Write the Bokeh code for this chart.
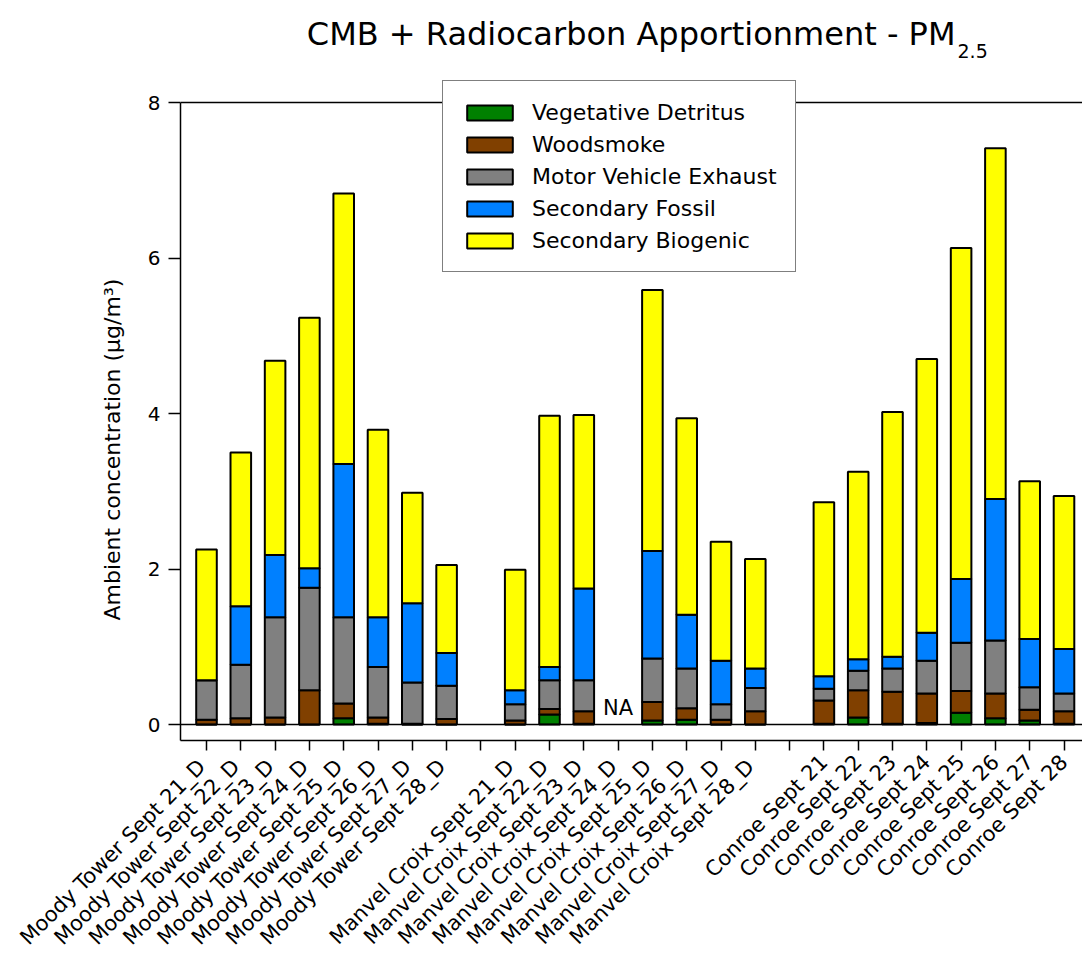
import math
import numpy as np
from bokeh.plotting import figure
from bokeh.models import (Range1d, FixedTicker, Span, Label, Legend, LegendItem,
                          ColumnDataSource, Title)
from bokeh.embed import file_html
from bokeh.resources import INLINE
from bokeh.core.properties import value

# ---------------- data ----------------
moody_labels = ["Moody  Tower Sept 21_D", "Moody  Tower Sept 22_D", "Moody  Tower Sept 23_D",
                "Moody  Tower Sept 24_D", "Moody  Tower Sept 25_D", "Moody  Tower Sept 26_D",
                "Moody  Tower Sept 27_D", "Moody  Tower Sept 28_D"]
manvel_labels = ["Manvel Croix  Sept 21_D", "Manvel Croix  Sept 22_D", "Manvel Croix  Sept 23_D",
                 "Manvel Croix  Sept 24_D", "Manvel Croix  Sept 25_D", "Manvel Croix  Sept 26_D",
                 "Manvel Croix  Sept 27_D", "Manvel Croix  Sept 28_D"]
conroe_labels = ["Conroe Sept 21", "Conroe Sept 22", "Conroe Sept 23", "Conroe Sept 24",
                 "Conroe Sept 25", "Conroe Sept 26", "Conroe Sept 27", "Conroe Sept 28"]

NA = float("nan")
vegetative_detritus = [0.00, 0.00, 0.00, 0.00, 0.08, 0.01, 0.00, 0.00,
                       0.00, 0.13, 0.01, NA, 0.05, 0.06, 0.00, 0.00,
                       0.01, 0.09, 0.01, 0.02, 0.15, 0.08, 0.05, 0.01]
woodsmoke = [0.06, 0.08, 0.09, 0.44, 0.19, 0.08, 0.01, 0.07,
             0.05, 0.07, 0.16, NA, 0.24, 0.15, 0.06, 0.17,
             0.30, 0.35, 0.41, 0.38, 0.28, 0.32, 0.14, 0.16]
motor_vehicle = [0.51, 0.69, 1.29, 1.32, 1.11, 0.65, 0.53, 0.43,
                 0.21, 0.37, 0.40, NA, 0.56, 0.51, 0.20, 0.30,
                 0.15, 0.25, 0.30, 0.42, 0.62, 0.68, 0.29, 0.23]
secondary_fossil = [0.00, 0.75, 0.80, 0.25, 1.97, 0.64, 1.02, 0.42,
                    0.18, 0.17, 1.18, NA, 1.38, 0.69, 0.56, 0.25,
                    0.16, 0.15, 0.15, 0.36, 0.82, 1.82, 0.62, 0.57]
secondary_biogenic = [1.68, 1.98, 2.50, 3.22, 3.48, 2.41, 1.42, 1.13,
                      1.55, 3.23, 2.23, NA, 3.36, 2.53, 1.53, 1.41,
                      2.24, 2.41, 3.15, 3.52, 4.26, 4.51, 2.03, 1.97]

series_names = ["Vegetative Detritus", "Woodsmoke", "Motor Vehicle Exhaust",
                "Secondary Fossil", "Secondary Biogenic"]
series_colors = ["#008000", "#804000", "#808080", "#0080FF", "#FFFF00"]
y_ticks = [0, 2, 4, 6, 8]
y_top = 8

FONT = "DejaVu Sans"

# slot positions: groups separated by one empty slot
groups = [moody_labels, manvel_labels, conroe_labels]
xs, tick_labels = [], {}
slot = 0
for gi, g in enumerate(groups):
    for lab in g:
        xs.append(slot)
        tick_labels[slot] = lab
        slot += 1
    if gi < len(groups) - 1:
        tick_labels[slot] = ""
        slot += 1
all_slots = list(range(slot))

keys = ["veg", "wood", "mve", "fos", "bio"]
src = ColumnDataSource(dict(
    x=xs,
    veg=np.array(vegetative_detritus, dtype=float),
    wood=np.array(woodsmoke, dtype=float),
    mve=np.array(motor_vehicle, dtype=float),
    fos=np.array(secondary_fossil, dtype=float),
    bio=np.array(secondary_biogenic, dtype=float),
))

# ---------------- layout (pixels) ----------------
W, H = 1082, 964
LEFT, BOTTOM = 180, 224
FRAME_W, FRAME_H = W - LEFT, H - BOTTOM
PX_SLOT = 34.3          # px per category slot
PX_UNIT = 77.75         # px per y unit
x_start = -26 / PX_SLOT
x_end = x_start + FRAME_W / PX_SLOT
y_start = -16 / PX_UNIT
y_end = y_start + FRAME_H / PX_UNIT

def dx(px):  # screen px -> data x
    return x_start + (px - LEFT) / PX_SLOT

def dy(py):  # screen px -> data y
    return y_end - py / PX_UNIT

p = figure(width=W, height=H, output_backend="svg", toolbar_location=None,
           x_range=Range1d(x_start, x_end), y_range=Range1d(y_start, y_end),
           min_border_left=LEFT, min_border_right=0, min_border_top=0,
           min_border_bottom=BOTTOM)
p.outline_line_color = None
p.xgrid.grid_line_color = None
p.ygrid.grid_line_color = None
p.background_fill_color = "white"
p.border_fill_color = "white"

renderers = p.vbar_stack(keys, x="x", width=0.6, source=src, color=series_colors,
                         line_color="black", line_width=2)

# axes
xa = p.xaxis[0]
xa.ticker = FixedTicker(ticks=all_slots)
xa.major_label_overrides = tick_labels
xa.major_label_orientation = math.pi / 4
xa.major_label_text_font = FONT
xa.major_label_text_font_size = "21px"
xa.major_label_text_color = "black"
xa.major_tick_out = 10
xa.major_tick_in = 0
xa.minor_tick_line_color = None
xa.major_label_standoff = 8
xa.axis_line_width = 1.5
xa.major_tick_line_width = 1.5

ya = p.yaxis[0]
ya.ticker = FixedTicker(ticks=y_ticks)
ya.bounds = (y_start, y_top)
ya.major_label_text_font = FONT
ya.major_label_text_font_size = "20px"
ya.major_label_text_color = "black"
ya.major_tick_out = 12
ya.major_tick_in = 0
ya.minor_tick_line_color = None
ya.major_label_standoff = 8
ya.axis_line_width = 1.5
ya.major_tick_line_width = 1.5

# y axis title (placed as a left-side title so it can be offset along the axis)
p.add_layout(Title(text="Ambient concentration (\u00b5g/m\u00b3)", align="left",
                   offset=120, standoff=40, text_font=FONT, text_font_size="22px",
                   text_font_style="normal", text_color="black"), "left")

# zero line and top frame line
p.add_layout(Span(location=0, dimension="width", line_color="black", line_width=1.5))
p.add_layout(Span(location=y_top, dimension="width", line_color="black", line_width=1.5))

# NA label
na_x = [x for x, v in zip(xs, secondary_biogenic) if math.isnan(v)]
p.text(x=na_x, y=[0] * len(na_x), text=["NA"] * len(na_x), text_align="center",
       text_baseline="bottom", y_offset=-5, text_font=value(FONT),
       text_font_size="21px", text_color="black")

# legend
items = [LegendItem(label=n, renderers=[r]) for n, r in zip(series_names, renderers)]
legend = Legend(items=items, location=(442 - LEFT, FRAME_H - 272), orientation="vertical",
                glyph_width=57, glyph_height=19, label_standoff=14, padding=18,
                spacing=6, label_height=26, margin=0,
                label_text_font=FONT, label_text_font_size="22px",
                label_text_color="black",
                border_line_color="black", border_line_width=1.5,
                background_fill_color="white", background_fill_alpha=1.0)
p.add_layout(legend, "center")

# title with subscript
p.add_layout(Label(x=dx(955), y=dy(33), text_baseline="alphabetic",
                   text="CMB + Radiocarbon Apportionment - PM", text_align="right",
                   text_font=FONT, text_font_size="32px", text_color="black"))
p.add_layout(Label(x=dx(957), y=dy(50), text_baseline="alphabetic",
                   text="2.5", text_align="left",
                   text_font=FONT, text_font_size="19px", text_color="black"))

open("out.html", "w").write(file_html(p, INLINE))
